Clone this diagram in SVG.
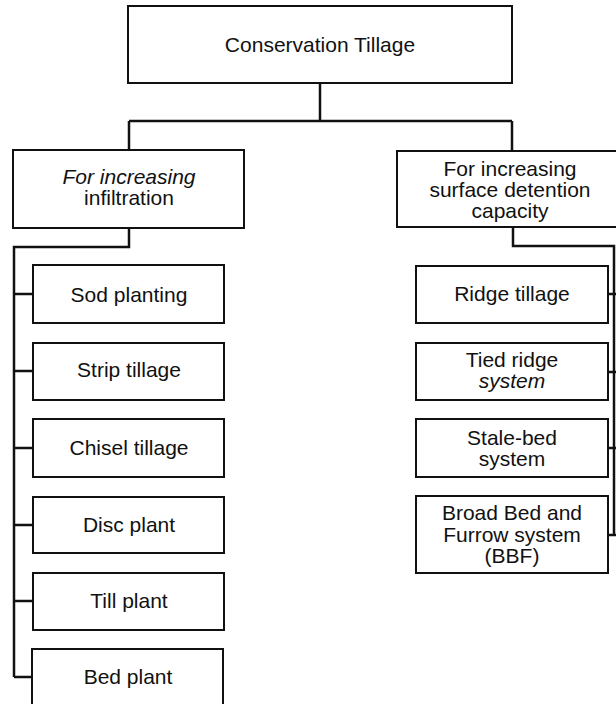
<svg xmlns="http://www.w3.org/2000/svg" width="616" height="704" viewBox="0 0 616 704">
<style>
.box{fill:#fff;stroke:#111;stroke-width:2}
.t{font-family:"Liberation Sans",Arial,sans-serif;font-size:21px;fill:#111;text-anchor:middle}
.i{font-style:italic}
.c{fill:none;stroke:#111;stroke-width:2.5}
</style>
<rect width="616" height="704" fill="#fff"/>
<g id="connectors">
<path class="c" d="M320,83 V121 M129,121 H512 M129,121 V150 M512,121 V151"/>
<path class="c" d="M129,228 V247 H14 V677 M14,294 H33 M14,371 H33 M14,448 H33 M14,525 H33 M14,601 H33 M14,677 H32"/>
<path class="c" d="M513,227 V246 H614 V535 M608,294 H616 M608,372 H616 M608,448 H616 M608,535 H616"/>
</g>
<g id="root"><rect class="box" x="128" y="6" width="384" height="77"/><text class="t" x="320" y="52">Conservation Tillage</text></g>
<g id="infiltration"><rect class="box" x="13" y="150" width="231" height="78"/><text class="t i" x="129" y="184">For increasing</text><text class="t" x="129" y="205">infiltration</text></g>
<g id="detention"><rect class="box" x="397" y="151" width="226" height="76"/><text class="t" x="510" y="176">For increasing</text><text class="t" x="510" y="197">surface detention</text><text class="t" x="510" y="218">capacity</text></g>
<g id="sod"><rect class="box" x="33" y="265" width="191" height="58"/><text class="t" x="129" y="302">Sod planting</text></g>
<g id="strip"><rect class="box" x="33" y="343" width="191" height="57"/><text class="t" x="129" y="377">Strip tillage</text></g>
<g id="chisel"><rect class="box" x="33" y="419" width="191" height="58"/><text class="t" x="129" y="455">Chisel tillage</text></g>
<g id="disc"><rect class="box" x="33" y="497" width="191" height="56"/><text class="t" x="129" y="532">Disc plant</text></g>
<g id="till"><rect class="box" x="33" y="573" width="191" height="57"/><text class="t" x="129" y="608">Till plant</text></g>
<g id="bed"><rect class="box" x="32" y="649" width="191" height="58"/><text class="t" x="128" y="684">Bed plant</text></g>
<g id="ridge"><rect class="box" x="416" y="266" width="192" height="57"/><text class="t" x="512" y="301">Ridge tillage</text></g>
<g id="tied"><rect class="box" x="416" y="343" width="192" height="57"/><text class="t" x="512" y="367">Tied ridge</text><text class="t i" x="512" y="388">system</text></g>
<g id="stale"><rect class="box" x="416" y="419" width="192" height="58"/><text class="t" x="512" y="445">Stale-bed</text><text class="t" x="512" y="466">system</text></g>
<g id="bbf"><rect class="box" x="416" y="496" width="192" height="77"/><text class="t" x="512" y="520">Broad Bed and</text><text class="t" x="512" y="542">Furrow system</text><text class="t" x="512" y="563">(BBF)</text></g>
</svg>
